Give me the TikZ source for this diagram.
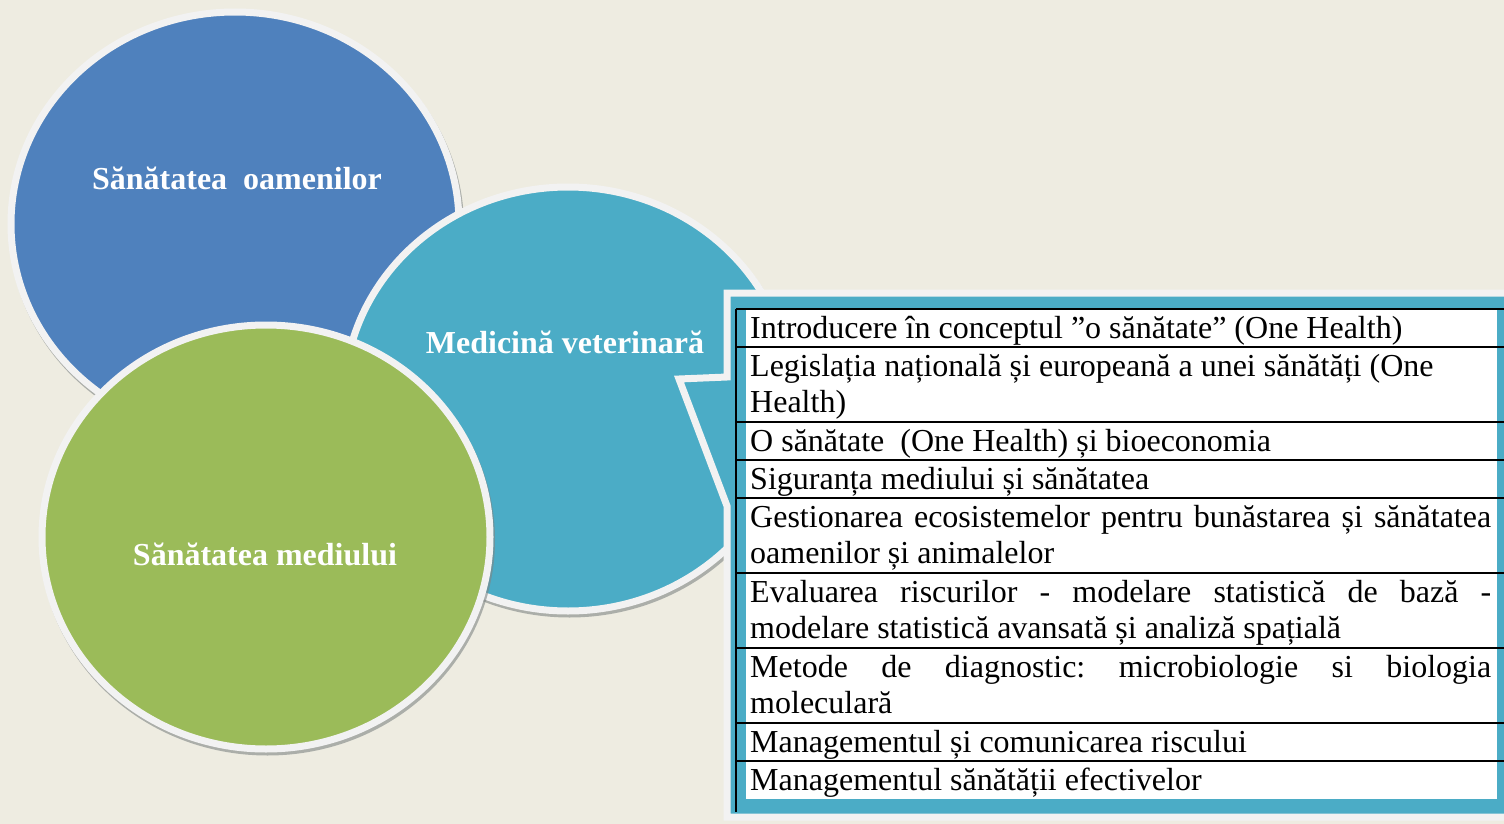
\documentclass[tikz,border=0pt]{standalone}
\usepackage{fontspec}
\setmainfont{Liberation Serif}
\usepackage{tikz}
\definecolor{bgtan}{HTML}{EEECE1}
\definecolor{humanblue}{HTML}{4F81BD}
\definecolor{vetteal}{HTML}{4BACC6}
\definecolor{envgreen}{HTML}{9BBB59}
\definecolor{rimgray}{HTML}{F2F2F2}
\definecolor{shadegray}{HTML}{7F8584}
\frenchspacing

\begin{document}
\begin{tikzpicture}[x=1pt,y=-1pt]
\tikzstyle{every node}+=[inner sep=0pt]
\tikzstyle{disc}=[draw=rimgray, line width=7pt]
\tikzstyle{discshade}=[fill=shadegray, opacity=0.6]
\tikzstyle{disclabel}=[text=white, font=\fontsize{32}{38}\selectfont\bfseries]
\tikzstyle{rowtext}=[anchor=base west, font=\fontsize{32}{36}\selectfont]
\tikzstyle{rule}=[line width=2pt, black]
\useasboundingbox (0,0) rectangle (1504,824);
\fill [bgtan] (0,0) rectangle (1504,824);
\fill [discshade] (236.5,227) ellipse [x radius=227.5, y radius=215.5];
\filldraw [disc, fill=humanblue] (235,224) ellipse [x radius=224, y radius=212];
\fill [discshade] (569.5,402) ellipse [x radius=227.5, y radius=215.5];
\filldraw [disc, fill=vetteal] (568,399) ellipse [x radius=224, y radius=212];
\fill [discshade] (267.5,540) ellipse [x radius=227.5, y radius=215.5];
\filldraw [disc, fill=envgreen] (266,537) ellipse [x radius=224, y radius=212];
\node [disclabel, anchor=base] (hmn) at (237,189) {Sănătatea\ \ oamenilor};
\node [disclabel, anchor=base] (vet) at (565,353) {Medicină veterinară};
\node [disclabel, anchor=base] (env) at (265,565) {Sănătatea mediului};
\coordinate (tip) at (679,379);
\filldraw [fill=vetteal, draw=rimgray, line width=7pt] (727,293) -- (1512,293) -- (1512,817) -- (727,817) -- (727,506) -- (tip) -- (727,377) -- cycle;
\fill [white] (746,309) rectangle (1497,799);
\draw [rule] (736,309) -- (736,812);
\foreach \y in {309,347,422,460,498,573,648,723,761}
  \draw [rule] (736,\y) -- (1504,\y);
\node [rowtext] (row1) at (750,338) {Introducere în conceptul ”o sănătate” (One Health)};
\node [rowtext] (row2) at (750,376) {Legislația națională și europeană a unei sănătăți (One};
\node [rowtext] (row2b) at (750,412) {Health)};
\node [rowtext] (row3) at (750,451) {O sănătate\ \ (One Health) și bioeconomia};
\node [rowtext] (row4) at (750,489) {Siguranța mediului și sănătatea};
\node [rowtext] (row5) at (750,527) {\makebox[741pt][s]{Gestionarea ecosistemelor pentru bunăstarea și sănătatea}};
\node [rowtext] (row5b) at (750,563) {oamenilor și animalelor};
\node [rowtext] (row6) at (750,602) {\makebox[741pt][s]{Evaluarea riscurilor - modelare statistică de bază -}};
\node [rowtext] (row6b) at (750,638) {modelare statistică avansată și analiză spațială};
\node [rowtext] (row7) at (750,677) {\makebox[741pt][s]{Metode de diagnostic: microbiologie si biologia}};
\node [rowtext] (row7b) at (750,713) {moleculară};
\node [rowtext] (row8) at (750,752) {Managementul și comunicarea riscului};
\node [rowtext] (row9) at (750,790) {Managementul sănătății efectivelor};
\end{tikzpicture}
\end{document}
